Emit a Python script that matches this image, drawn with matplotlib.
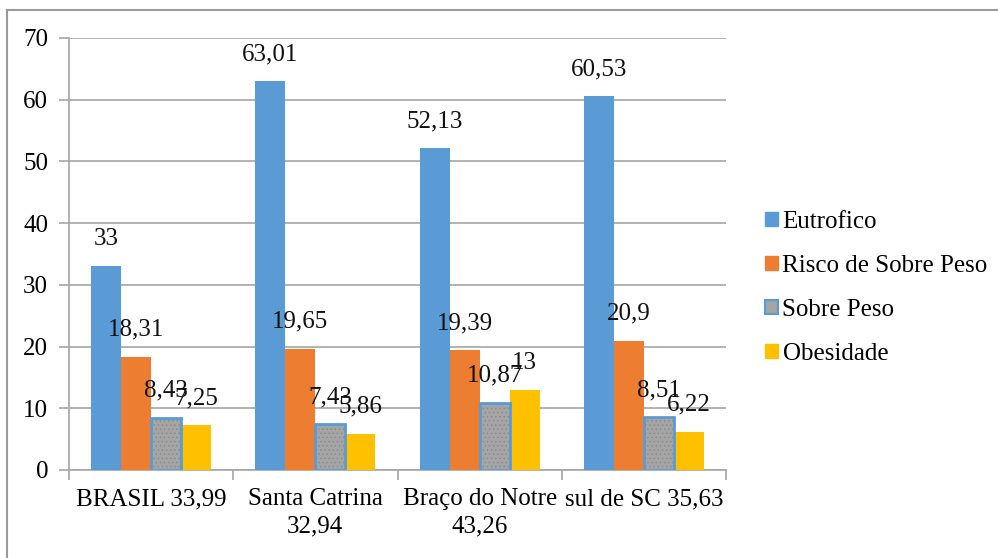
import numpy as np
import matplotlib
matplotlib.use('Agg')
import matplotlib.pyplot as plt
from matplotlib.patches import Patch
from matplotlib.lines import Line2D

plt.rcParams['font.family'] = ['Liberation Serif', 'DejaVu Serif']
plt.rcParams['hatch.linewidth'] = 0.6

categorias = ['BRASIL 33,99', 'Santa Catrina\n32,94', 'Braço do Notre\n43,26', 'sul de SC 35,63']
series = ['Eutrofico', 'Risco de Sobre Peso', 'Sobre Peso', 'Obesidade']
eutrofico = [33, 63.01, 52.13, 60.53]
risco = [18.31, 19.65, 19.39, 20.9]
sobre_peso = [8.43, 7.43, 10.87, 8.51]
obesidade = [7.25, 5.86, 13, 6.22]
rotulos = [['33', '63,01', '52,13', '60,53'],
           ['18,31', '19,65', '19,39', '20,9'],
           ['8,43', '7,43', '10,87', '8,51'],
           ['7,25', '5,86', '13', '6,22']]

cores = ['#5B9BD5', '#ED7D31', '#A5A5A5', '#FFC000']
valores = [eutrofico, risco, sobre_peso, obesidade]

fig = plt.figure(figsize=(9.98, 5.58), dpi=100)
ax = fig.add_axes([69 / 998, 88 / 558, 657 / 998, 432 / 558])

x = np.arange(len(categorias))
w = 0.1826
fs = 18

for i, vals in enumerate(valores):
    pos = x + (i - 1.5) * w
    if i == 2:
        ax.bar(pos, vals, w, color=cores[i], zorder=3)
        ax.bar(pos, vals, w, fill=False, hatch='....', edgecolor='#8c8c8c', linewidth=0, zorder=3)
        ax.bar(pos, vals, w, fill=False, edgecolor='#5B9BD5', linewidth=2, zorder=4)
    else:
        ax.bar(pos, vals, w, color=cores[i], zorder=3)
    for p, v, t in zip(pos, vals, rotulos[i]):
        ax.annotate(t, (p, v), xytext=(0, 19.5), textcoords='offset points',
                    ha='center', va='center', fontsize=fs, color='#111111', zorder=5)

ax.set_xlim(-0.5, 3.5)
ax.set_ylim(0, 70)
ax.set_yticks(range(0, 71, 10))
ax.yaxis.grid(True, color='#a6a6a6', linewidth=1.2, zorder=0)
ax.set_axisbelow(True)

ax.set_xticks(x)
ax.set_xticklabels(categorias, fontsize=fs, linespacing=1.3)
ax.set_xticks(np.arange(-0.5, 4, 1), minor=True)
ax.tick_params(axis='x', which='major', length=0, pad=13)
ax.tick_params(axis='x', which='minor', length=7, color='#a6a6a6', width=1.2)
ax.tick_params(axis='y', length=7, color='#a6a6a6', width=1.2, labelsize=fs, pad=8)

for s in ['top', 'right']:
    ax.spines[s].set_visible(False)
for s in ['left', 'bottom']:
    ax.spines[s].set_color('#a6a6a6')
    ax.spines[s].set_linewidth(1.2)

handles = [Patch(facecolor=cores[0], edgecolor=cores[0]),
           Patch(facecolor=cores[1], edgecolor=cores[1]),
           Patch(facecolor=cores[2], edgecolor='#5B9BD5', linewidth=1.5),
           Patch(facecolor=cores[3], edgecolor=cores[3])]
fig.legend(handles, series, loc='upper left', bbox_to_anchor=(755 / 998, 1 - 201 / 558),
           frameon=False, fontsize=fs, handlelength=0.5, handleheight=0.5,
           handletextpad=0.2, labelspacing=0.88, borderaxespad=0)

# moldura externa (só topo e esquerda aparecem)
fig.add_artist(Line2D([7 / 998, 1.0], [1 - 10 / 558, 1 - 10 / 558], color='#9a9a9a', linewidth=1.5))
fig.add_artist(Line2D([7 / 998, 7 / 998], [0.0, 1 - 10 / 558], color='#9a9a9a', linewidth=1.5))

fig.savefig('out.png', dpi=100, facecolor='white')
